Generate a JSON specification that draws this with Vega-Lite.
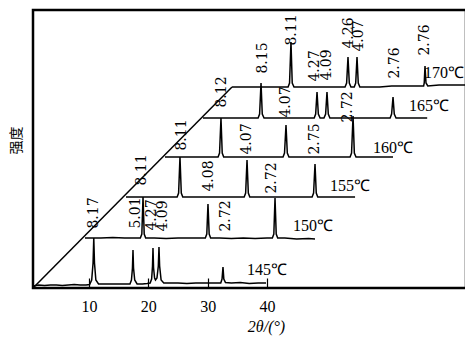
{
  "$schema": "https://vega.github.io/schema/vega-lite/v6.json",
  "width": 433,
  "height": 278,
  "autosize": {"type": "none"},
  "padding": {"left": 33, "top": 10, "right": 0, "bottom": 50},
  "background": "white",
  "config": {"view": {"stroke": "black", "strokeWidth": 2.5}},
  "datasets": {
    "traces": [
      {"s":"diag","t":0.556,"i":0},{"s":"diag","t":34.1,"i":201},
      {"s":"145","t":0.56,"i":2},{"s":"145","t":1.5,"i":3},{"s":"145","t":2.5,"i":2.5},{"s":"145","t":3.5,"i":3},{"s":"145","t":4.5,"i":3},{"s":"145","t":5.5,"i":2.5},{"s":"145","t":6.5,"i":3},{"s":"145","t":7.5,"i":3.5},{"s":"145","t":8.5,"i":3},{"s":"145","t":9.5,"i":3},{"s":"145","t":10.1,"i":3.5},
      {"s":"145","t":10.45,"i":8},{"s":"145","t":10.68,"i":25},{"s":"145","t":10.8,"i":50},{"s":"145","t":10.92,"i":25},{"s":"145","t":11.15,"i":8},{"s":"145","t":11.6,"i":4},
      {"s":"145","t":12.5,"i":4},{"s":"145","t":14,"i":4},{"s":"145","t":15.5,"i":4},{"s":"145","t":16.9,"i":4},
      {"s":"145","t":17.15,"i":8},{"s":"145","t":17.32,"i":20},{"s":"145","t":17.41,"i":38},{"s":"145","t":17.5,"i":20},{"s":"145","t":17.7,"i":8},{"s":"145","t":18.1,"i":4},
      {"s":"145","t":19,"i":4},{"s":"145","t":19.8,"i":4.5},{"s":"145","t":20.3,"i":5},
      {"s":"145","t":20.55,"i":9},{"s":"145","t":20.7,"i":22},{"s":"145","t":20.78,"i":40},{"s":"145","t":20.88,"i":20},{"s":"145","t":21.05,"i":10},{"s":"145","t":21.2,"i":8},{"s":"145","t":21.45,"i":10},{"s":"145","t":21.68,"i":22},{"s":"145","t":21.79,"i":41},{"s":"145","t":21.9,"i":22},{"s":"145","t":22.15,"i":8},{"s":"145","t":22.6,"i":5},
      {"s":"145","t":23.5,"i":5},{"s":"145","t":25,"i":5},{"s":"145","t":26.5,"i":4.5},{"s":"145","t":28,"i":5},{"s":"145","t":29.5,"i":5},{"s":"145","t":31,"i":5},{"s":"145","t":32.2,"i":5},
      {"s":"145","t":32.42,"i":9},{"s":"145","t":32.58,"i":21},{"s":"145","t":32.72,"i":9},{"s":"145","t":33,"i":5.5},
      {"s":"145","t":34,"i":5},{"s":"145","t":35.5,"i":5.5},{"s":"145","t":37,"i":4.5},{"s":"145","t":38.5,"i":5},{"s":"145","t":39.83,"i":5},
      {"s":"150","t":9.32,"i":50},{"s":"150","t":10,"i":50},{"s":"150","t":12,"i":50},{"s":"150","t":14,"i":50.5},{"s":"150","t":16,"i":50},{"s":"150","t":18,"i":50},{"s":"150","t":18.65,"i":50},
      {"s":"150","t":18.9,"i":54},{"s":"150","t":19.1,"i":91},{"s":"150","t":19.3,"i":54},{"s":"150","t":19.55,"i":50},
      {"s":"150","t":21,"i":50},{"s":"150","t":23,"i":49.5},{"s":"150","t":25,"i":50},{"s":"150","t":27,"i":50},{"s":"150","t":29,"i":50},{"s":"150","t":29.6,"i":50},
      {"s":"150","t":29.85,"i":54},{"s":"150","t":30.05,"i":84},{"s":"150","t":30.25,"i":54},{"s":"150","t":30.5,"i":50},
      {"s":"150","t":32,"i":50},{"s":"150","t":34,"i":49.5},{"s":"150","t":36,"i":50},{"s":"150","t":38,"i":49.5},{"s":"150","t":40,"i":50},{"s":"150","t":40.9,"i":50},
      {"s":"150","t":41.15,"i":54},{"s":"150","t":41.35,"i":90},{"s":"150","t":41.55,"i":54},{"s":"150","t":41.8,"i":50},
      {"s":"150","t":43,"i":50},{"s":"150","t":45,"i":49},{"s":"150","t":47,"i":49.5},{"s":"150","t":48.09,"i":49},
      {"s":"155","t":16.23,"i":91},{"s":"155","t":18,"i":91},{"s":"155","t":20,"i":91},{"s":"155","t":22,"i":91},{"s":"155","t":24,"i":91},{"s":"155","t":24.85,"i":91},
      {"s":"155","t":25.1,"i":95},{"s":"155","t":25.33,"i":131},{"s":"155","t":25.55,"i":95},{"s":"155","t":25.8,"i":91},
      {"s":"155","t":28,"i":91},{"s":"155","t":30,"i":91},{"s":"155","t":32,"i":91},{"s":"155","t":34,"i":91},{"s":"155","t":36.15,"i":91},
      {"s":"155","t":36.4,"i":95},{"s":"155","t":36.63,"i":128},{"s":"155","t":36.85,"i":95},{"s":"155","t":37.1,"i":91},
      {"s":"155","t":39,"i":91},{"s":"155","t":41,"i":91},{"s":"155","t":43,"i":91},{"s":"155","t":45,"i":91},{"s":"155","t":47.6,"i":91},
      {"s":"155","t":47.85,"i":95},{"s":"155","t":48.09,"i":124},{"s":"155","t":48.3,"i":95},{"s":"155","t":48.55,"i":91},
      {"s":"155","t":50,"i":91},{"s":"155","t":52,"i":91},{"s":"155","t":54.84,"i":91},
      {"s":"160","t":22.8,"i":131},{"s":"160","t":25,"i":131},{"s":"160","t":27,"i":131},{"s":"160","t":29,"i":131},{"s":"160","t":31,"i":131},{"s":"160","t":31.75,"i":131},
      {"s":"160","t":32.0,"i":135},{"s":"160","t":32.24,"i":170},{"s":"160","t":32.45,"i":135},{"s":"160","t":32.7,"i":131},
      {"s":"160","t":35,"i":131},{"s":"160","t":37,"i":131},{"s":"160","t":39,"i":131},{"s":"160","t":41,"i":131},{"s":"160","t":42.7,"i":131},
      {"s":"160","t":42.95,"i":135},{"s":"160","t":43.2,"i":163},{"s":"160","t":43.42,"i":135},{"s":"160","t":43.7,"i":131},
      {"s":"160","t":46,"i":131},{"s":"160","t":48,"i":131},{"s":"160","t":50,"i":131},{"s":"160","t":52,"i":131},{"s":"160","t":54,"i":131},
      {"s":"160","t":54.25,"i":135},{"s":"160","t":54.5,"i":172},{"s":"160","t":54.72,"i":135},{"s":"160","t":55,"i":131},
      {"s":"160","t":57,"i":131},{"s":"160","t":59,"i":131},{"s":"160","t":61.24,"i":131},
      {"s":"165","t":29.21,"i":170},{"s":"165","t":31,"i":170},{"s":"165","t":33,"i":170},{"s":"165","t":35,"i":170},{"s":"165","t":37,"i":170},{"s":"165","t":38.5,"i":170},
      {"s":"165","t":38.75,"i":174},{"s":"165","t":38.99,"i":205},{"s":"165","t":39.2,"i":174},{"s":"165","t":39.5,"i":170},
      {"s":"165","t":41,"i":170},{"s":"165","t":43,"i":170},{"s":"165","t":45,"i":170},{"s":"165","t":47,"i":170},{"s":"165","t":47.95,"i":170},
      {"s":"165","t":48.2,"i":174},{"s":"165","t":48.43,"i":196},{"s":"165","t":48.65,"i":174},{"s":"165","t":48.95,"i":170},{"s":"165","t":49.6,"i":170},{"s":"165","t":49.88,"i":174},{"s":"165","t":50.11,"i":196},{"s":"165","t":50.33,"i":174},{"s":"165","t":50.6,"i":170},
      {"s":"165","t":52,"i":170},{"s":"165","t":54,"i":170},{"s":"165","t":56,"i":170},{"s":"165","t":58,"i":170},{"s":"165","t":60.75,"i":170},
      {"s":"165","t":61.0,"i":174},{"s":"165","t":61.24,"i":191},{"s":"165","t":61.45,"i":174},{"s":"165","t":61.75,"i":170},
      {"s":"165","t":63,"i":170},{"s":"165","t":65,"i":170},{"s":"165","t":67,"i":170},
      {"s":"170","t":34.1,"i":201},{"s":"170","t":36,"i":201},{"s":"170","t":38,"i":201},{"s":"170","t":40,"i":201},{"s":"170","t":42,"i":201},{"s":"170","t":43.55,"i":201},
      {"s":"170","t":43.8,"i":205},{"s":"170","t":44.04,"i":246},{"s":"170","t":44.25,"i":205},{"s":"170","t":44.55,"i":201},
      {"s":"170","t":46,"i":201},{"s":"170","t":48,"i":201},{"s":"170","t":50,"i":201},{"s":"170","t":52,"i":201},{"s":"170","t":53.15,"i":201},
      {"s":"170","t":53.42,"i":205},{"s":"170","t":53.65,"i":231},{"s":"170","t":53.87,"i":205},{"s":"170","t":54.15,"i":201},{"s":"170","t":54.7,"i":201},{"s":"170","t":54.95,"i":205},{"s":"170","t":55.17,"i":231},{"s":"170","t":55.38,"i":205},{"s":"170","t":55.65,"i":201},
      {"s":"170","t":57,"i":201},{"s":"170","t":59,"i":201},{"s":"170","t":61,"i":202},{"s":"170","t":63,"i":202},{"s":"170","t":65,"i":202},{"s":"170","t":66.4,"i":202},
      {"s":"170","t":66.5,"i":205},{"s":"170","t":66.63,"i":222},{"s":"170","t":66.8,"i":205},{"s":"170","t":67.1,"i":202},
      {"s":"170","t":69,"i":203},{"s":"170","t":71,"i":203},{"s":"170","t":73.54,"i":203}
    ],
    "peaks": [
      {"t":10.84,"i":75,"d":"8.17"},{"t":17.92,"i":75,"d":"5.01"},{"t":20.61,"i":73,"d":"4.27"},{"t":22.47,"i":72,"d":"4.09"},{"t":33.09,"i":72,"d":"2.72"},
      {"t":18.93,"i":118,"d":"8.11"},{"t":30.22,"i":112,"d":"4.08"},{"t":40.84,"i":110,"d":"2.72"},
      {"t":25.67,"i":153,"d":"8.11"},{"t":36.63,"i":149,"d":"4.07"},{"t":48.09,"i":149,"d":"2.75"},
      {"t":32.41,"i":196,"d":"8.12"},{"t":43.2,"i":186,"d":"4.07"},{"t":53.65,"i":181,"d":"2.72"},
      {"t":39.33,"i":230,"d":"8.15"},{"t":48.09,"i":222,"d":"4.27"},{"t":50.11,"i":223,"d":"4.09"},{"t":61.57,"i":225,"d":"2.76"},
      {"t":44.21,"i":258,"d":"8.11"},{"t":53.82,"i":255,"d":"4.26"},{"t":55.5,"i":252,"d":"4.07"},{"t":66.63,"i":248,"d":"2.76"}
    ],
    "temps": [
      {"t":40.0,"i":18,"lab":"145℃"},
      {"t":47.75,"i":62,"lab":"150℃"},
      {"t":53.99,"i":102,"lab":"155℃"},
      {"t":61.24,"i":140,"lab":"160℃"},
      {"t":67.3,"i":182,"lab":"165℃"},
      {"t":69.85,"i":215,"lab":"170℃"}
    ]
  },
  "encoding": {
    "x": {
      "field": "t", "type": "quantitative",
      "scale": {"domain": [0.556, 73.54], "nice": false, "zero": false},
      "axis": {
        "values": [10, 20, 30, 40], "domain": false, "grid": false,
        "tickSize": -10, "tickColor": "black", "tickWidth": 1.2,
        "labelPadding": 20, "labelFont": "Liberation Serif", "labelFontSize": 16, "labelColor": "black",
        "title": "2θ/(°)", "titleFont": "Liberation Serif", "titleFontStyle": "italic", "titleFontWeight": "normal",
        "titleFontSize": 16, "titleColor": "black", "titleX": 233, "titleY": 38, "titleAlign": "center", "titleBaseline": "middle"
      }
    },
    "y": {
      "field": "i", "type": "quantitative",
      "scale": {"domain": [0, 278], "nice": false, "zero": false},
      "axis": {
        "title": "强度", "labels": false, "ticks": false, "domain": false, "grid": false,
        "titleFont": "Noto Sans CJK SC", "titleFontSize": 14, "titleFontWeight": "normal", "titleColor": "black",
        "titleX": -17, "titleY": 130, "titleAngle": 270, "titleAlign": "center", "titleBaseline": "middle"
      }
    }
  },
  "layer": [
    {
      "data": {"name": "traces"},
      "mark": {"type": "line", "color": "black", "strokeWidth": 1.5, "clip": true},
      "encoding": {"detail": {"field": "s", "type": "nominal"}}
    },
    {
      "data": {"name": "peaks"},
      "mark": {"type": "text", "angle": 270, "align": "center", "baseline": "middle", "font": "DejaVu Serif", "fontSize": 14, "color": "black"},
      "encoding": {"text": {"field": "d", "type": "nominal"}}
    },
    {
      "data": {"name": "temps"},
      "mark": {"type": "text", "align": "center", "baseline": "middle", "font": "Liberation Serif", "fontSize": 16, "color": "black"},
      "encoding": {"text": {"field": "lab", "type": "nominal"}}
    }
  ]
}
